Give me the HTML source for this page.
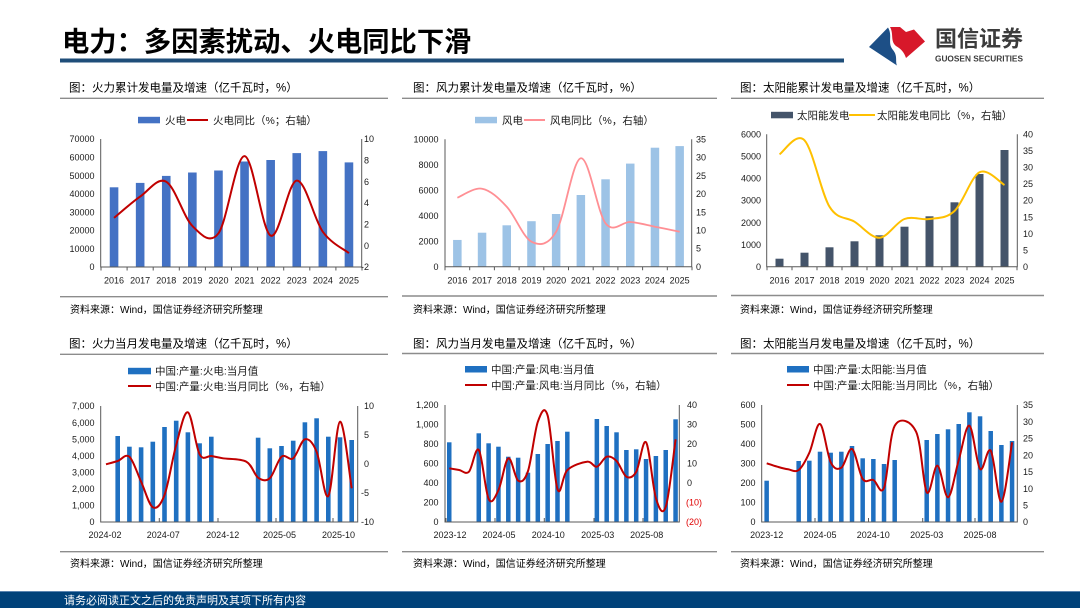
<!DOCTYPE html>
<html><head><meta charset="utf-8"><style>
html,body{margin:0;padding:0;background:#fff;}
svg{display:block;font-family:"Liberation Sans","Noto Sans CJK SC",sans-serif;}
.t{font-size:11.5px;fill:#000;}
.src{font-size:10px;fill:#000;}
.ax{font-size:9px;fill:#1a1a1a;}
.lg{font-size:10.5px;fill:#1a1a1a;}
.axl{stroke:#595959;stroke-width:1;fill:none;}
.sep{stroke:#8c8c8c;stroke-width:1.4;}
</style></head><body>
<svg width="1080" height="608" viewBox="0 0 1080 608" xmlns="http://www.w3.org/2000/svg">
<rect width="1080" height="608" fill="#fff"/>
<!-- Header -->
<text x="62" y="51" font-size="27.3" font-weight="bold" fill="#000" font-family="'Noto Sans CJK SC',sans-serif">电力：多因素扰动、火电同比下滑</text>
<rect x="60" y="58.5" width="784" height="4" fill="#1f4e79"/>
<!-- Logo -->
<path d="M869,47 L888,27.5 C893,36 887,43 893,50 C898,56 895,61 897,65.5 Z" fill="#1d4f86"/>
<path d="M890,27 L900,27 L906,32 L914,29.5 L925,41.5 L906,58 C904,52 901,49 896,46 C890,41 894,34 890,27 Z" fill="#d7182a"/>
<text x="935" y="46.5" font-size="22" font-weight="bold" fill="#3c3c3c" font-family="'Noto Sans CJK SC',sans-serif">国信证券</text>
<text x="935" y="61.5" font-size="8" font-weight="bold" fill="#3c3c3c" textLength="88" lengthAdjust="spacingAndGlyphs">GUOSEN SECURITIES</text>

<!-- ================= Chart 1 ================= -->
<text class="t" x="69" y="91.7">图：火力累计发电量及增速（亿千瓦时，%）</text>
<line class="sep" x1="60" y1="98.3" x2="388" y2="98.3"/>
<rect x="138" y="116.8" width="22" height="6.5" fill="#4472c4"/>
<text class="lg" x="165" y="124">火电</text>
<line x1="187" y1="120" x2="208" y2="120" stroke="#c00000" stroke-width="2"/>
<text class="lg" x="213" y="124">火电同比（%；右轴）</text>
<g fill="#4472c4">
<rect x="109.75" y="187.3" width="8.6" height="79.7"/>
<rect x="135.85" y="182.9" width="8.6" height="84.1"/>
<rect x="161.95" y="175.9" width="8.6" height="91.1"/>
<rect x="188.05" y="172.5" width="8.6" height="94.5"/>
<rect x="214.15" y="170.5" width="8.6" height="96.5"/>
<rect x="240.25" y="161.5" width="8.6" height="105.5"/>
<rect x="266.35" y="160" width="8.6" height="107"/>
<rect x="292.45" y="153.1" width="8.6" height="113.9"/>
<rect x="318.55" y="151.1" width="8.6" height="115.9"/>
<rect x="344.65" y="162.4" width="8.6" height="104.6"/>
</g>
<path class="axl" d="M100.7,139 V267 H361.7 V139"/>
<path class="axl" d="M101,267v3.5M127.1,267v3.5M153.2,267v3.5M179.3,267v3.5M205.4,267v3.5M231.5,267v3.5M257.6,267v3.5M283.7,267v3.5M309.8,267v3.5M335.9,267v3.5M362,267v3.5"/>
<path d="M114.05,217.9 C118.4,214.35 131.45,202.63 140.15,196.6 C148.85,190.57 157.55,176.82 166.25,181.7 C174.95,186.58 183.65,217.3 192.35,225.9 C201.05,234.5 209.75,244.93 218.45,233.3 C227.15,221.67 235.85,155.72 244.55,156.1 C253.25,156.48 261.95,231.52 270.65,235.6 C279.35,239.68 288.05,181.23 296.75,180.6 C305.45,179.97 314.15,219.72 322.85,231.8 C331.55,243.88 344.6,249.55 348.95,253.1" fill="none" stroke="#c00000" stroke-width="2"/>
<g class="ax" text-anchor="end">
<text x="94.5" y="142.2">70000</text><text x="94.5" y="160.5">60000</text><text x="94.5" y="178.8">50000</text><text x="94.5" y="197.1">40000</text><text x="94.5" y="215.3">30000</text><text x="94.5" y="233.6">20000</text><text x="94.5" y="251.9">10000</text><text x="94.5" y="270.2">0</text>
</g>
<g class="ax">
<text x="364" y="142.2">10</text><text x="364" y="163.5">8</text><text x="364" y="184.9">6</text><text x="364" y="206.2">4</text><text x="364" y="227.5">2</text><text x="364" y="248.9">0</text><text x="361" y="270.2">-2</text>
</g>
<g class="ax" text-anchor="middle">
<text x="114.05" y="283.5">2016</text><text x="140.15" y="283.5">2017</text><text x="166.25" y="283.5">2018</text><text x="192.35" y="283.5">2019</text><text x="218.45" y="283.5">2020</text><text x="244.55" y="283.5">2021</text><text x="270.65" y="283.5">2022</text><text x="296.75" y="283.5">2023</text><text x="322.85" y="283.5">2024</text><text x="348.95" y="283.5">2025</text>
</g>
<line class="sep" x1="60" y1="296.7" x2="388" y2="296.7"/>
<text class="src" x="70" y="312.8">资料来源：Wind，国信证券经济研究所整理</text>

<!-- ================= Chart 2 ================= -->
<text class="t" x="413" y="91.7">图：风力累计发电量及增速（亿千瓦时，%）</text>
<line class="sep" x1="402" y1="98.3" x2="717" y2="98.3"/>
<rect x="475" y="116.8" width="22" height="6.5" fill="#9dc3e6"/>
<text class="lg" x="502" y="124">风电</text>
<line x1="524" y1="120" x2="545" y2="120" stroke="#ff8f94" stroke-width="2"/>
<text class="lg" x="550" y="124">风电同比（%，右轴）</text>
<g fill="#9dc3e6">
<rect x="453.1" y="239.95" width="8.5" height="26.75"/>
<rect x="477.8" y="232.7" width="8.5" height="34"/>
<rect x="502.5" y="225.3" width="8.5" height="41.4"/>
<rect x="527.2" y="221.2" width="8.5" height="45.5"/>
<rect x="551.9" y="214" width="8.5" height="52.7"/>
<rect x="576.6" y="195" width="8.5" height="71.7"/>
<rect x="601.3" y="179.3" width="8.5" height="87.4"/>
<rect x="626" y="163.6" width="8.5" height="103.1"/>
<rect x="650.7" y="147.7" width="8.5" height="119"/>
<rect x="675.4" y="146.1" width="8.5" height="120.6"/>
</g>
<path class="axl" d="M445,139.3 V266.7 H691.7 V139.3"/>
<path class="axl" d="M445,266.7v3.5M469.7,266.7v3.5M494.4,266.7v3.5M519.1,266.7v3.5M543.8,266.7v3.5M568.5,266.7v3.5M593.2,266.7v3.5M617.9,266.7v3.5M642.6,266.7v3.5M667.3,266.7v3.5M692,266.7v3.5"/>
<path d="M457.35,197.7 C461.47,196.2 473.82,187.2 482.05,188.7 C490.28,190.2 498.52,197.87 506.75,206.7 C514.98,215.53 523.22,237.53 531.45,241.7 C539.68,245.87 547.92,245.6 556.15,231.7 C564.38,217.8 572.62,159.7 580.85,158.3 C589.08,156.9 597.32,212.68 605.55,223.3 C613.78,233.92 622.02,221.43 630.25,222 C638.48,222.57 646.72,225.08 654.95,226.7 C663.18,228.32 675.53,230.87 679.65,231.7" fill="none" stroke="#ff8f94" stroke-width="1.8"/>
<g class="ax" text-anchor="end">
<text x="438.5" y="142.5">10000</text><text x="438.5" y="168">8000</text><text x="438.5" y="193.5">6000</text><text x="438.5" y="218.9">4000</text><text x="438.5" y="244.4">2000</text><text x="438.5" y="269.9">0</text>
</g>
<g class="ax">
<text x="696" y="142.5">35</text><text x="696" y="160.7">30</text><text x="696" y="178.9">25</text><text x="696" y="197.1">20</text><text x="696" y="215.3">15</text><text x="696" y="233.5">10</text><text x="696" y="251.7">5</text><text x="696" y="269.9">0</text>
</g>
<g class="ax" text-anchor="middle">
<text x="457.35" y="283.5">2016</text><text x="482.05" y="283.5">2017</text><text x="506.75" y="283.5">2018</text><text x="531.45" y="283.5">2019</text><text x="556.15" y="283.5">2020</text><text x="580.85" y="283.5">2021</text><text x="605.55" y="283.5">2022</text><text x="630.25" y="283.5">2023</text><text x="654.95" y="283.5">2024</text><text x="679.65" y="283.5">2025</text>
</g>
<line class="sep" x1="402" y1="296" x2="717" y2="296"/>
<text class="src" x="413" y="312.8">资料来源：Wind，国信证券经济研究所整理</text>

<!-- ================= Chart 3 ================= -->
<text class="t" x="740" y="91.7">图：太阳能累计发电量及增速（亿千瓦时，%）</text>
<line class="sep" x1="731" y1="98.3" x2="1044" y2="98.3"/>
<rect x="771" y="111.8" width="22" height="6.5" fill="#44546a"/>
<text class="lg" x="797" y="119">太阳能发电</text>
<line x1="849" y1="115" x2="875" y2="115" stroke="#ffc000" stroke-width="2"/>
<text class="lg" x="877" y="119">太阳能发电同比（%，右轴）</text>
<g fill="#44546a">
<rect x="775.5" y="258.7" width="8" height="8"/>
<rect x="800.5" y="252.7" width="8" height="14"/>
<rect x="825.5" y="247.3" width="8" height="19.4"/>
<rect x="850.5" y="241.3" width="8" height="25.4"/>
<rect x="875.5" y="235.3" width="8" height="31.4"/>
<rect x="900.5" y="226.7" width="8" height="40"/>
<rect x="925.5" y="216.3" width="8" height="50.4"/>
<rect x="950.5" y="202.3" width="8" height="64.4"/>
<rect x="975.5" y="174" width="8" height="92.7"/>
<rect x="1000.5" y="150" width="8" height="116.7"/>
</g>
<path class="axl" d="M766.7,134.3 V266.7 H1017.3 V134.3"/>
<path class="axl" d="M767,266.7v3.5M792,266.7v3.5M817,266.7v3.5M842,266.7v3.5M867,266.7v3.5M892,266.7v3.5M917,266.7v3.5M942,266.7v3.5M967,266.7v3.5M992,266.7v3.5M1017,266.7v3.5"/>
<path d="M779.5,154.3 C783.67,151.97 796.17,131.57 804.5,140.3 C812.83,149.03 821.17,193.13 829.5,206.7 C837.83,220.27 846.17,216.53 854.5,221.7 C862.83,226.87 871.17,238.15 879.5,237.7 C887.83,237.25 896.17,222.12 904.5,219 C912.83,215.88 921.17,220.33 929.5,219 C937.83,217.67 946.17,218.78 954.5,211 C962.83,203.22 971.17,176.63 979.5,172.3 C987.83,167.97 1000.33,182.88 1004.5,185" fill="none" stroke="#ffc000" stroke-width="2"/>
<g class="ax" text-anchor="end">
<text x="761" y="137.5">6000</text><text x="761" y="159.6">5000</text><text x="761" y="181.6">4000</text><text x="761" y="203.7">3000</text><text x="761" y="225.8">2000</text><text x="761" y="247.8">1000</text><text x="761" y="269.9">0</text>
</g>
<g class="ax">
<text x="1023" y="137.5">40</text><text x="1023" y="154.1">35</text><text x="1023" y="170.6">30</text><text x="1023" y="187.2">25</text><text x="1023" y="203.7">20</text><text x="1023" y="220.3">15</text><text x="1023" y="236.8">10</text><text x="1023" y="253.4">5</text><text x="1023" y="269.9">0</text>
</g>
<g class="ax" text-anchor="middle">
<text x="779.5" y="283.5">2016</text><text x="804.5" y="283.5">2017</text><text x="829.5" y="283.5">2018</text><text x="854.5" y="283.5">2019</text><text x="879.5" y="283.5">2020</text><text x="904.5" y="283.5">2021</text><text x="929.5" y="283.5">2022</text><text x="954.5" y="283.5">2023</text><text x="979.5" y="283.5">2024</text><text x="1004.5" y="283.5">2025</text>
</g>
<line class="sep" x1="731" y1="295.5" x2="1044" y2="295.5"/>
<text class="src" x="740" y="312.8">资料来源：Wind，国信证券经济研究所整理</text>

<!-- ================= Chart 4 ================= -->
<text class="t" x="69" y="347.7">图：火力当月发电量及增速（亿千瓦时，%）</text>
<line class="sep" x1="60" y1="354.3" x2="388" y2="354.3"/>
<rect x="128" y="367.8" width="23" height="6.5" fill="#1f70c1"/>
<text class="lg" x="155" y="374.7">中国:产量:火电:当月值</text>
<line x1="128" y1="386" x2="151" y2="386" stroke="#c00000" stroke-width="2"/>
<text class="lg" x="155" y="390">中国:产量:火电:当月同比（%，右轴）</text>
<g fill="#1f70c1">
<rect x="115.4" y="436" width="4.6" height="86"/>
<rect x="127.1" y="446.7" width="4.6" height="75.3"/>
<rect x="138.8" y="447.3" width="4.6" height="74.7"/>
<rect x="150.5" y="441.7" width="4.6" height="80.3"/>
<rect x="162.2" y="427" width="4.6" height="95"/>
<rect x="173.9" y="420.7" width="4.6" height="101.3"/>
<rect x="185.6" y="432.3" width="4.6" height="89.7"/>
<rect x="197.3" y="443.3" width="4.6" height="78.7"/>
<rect x="209" y="436.7" width="4.6" height="85.3"/>
<rect x="255.8" y="437.7" width="4.6" height="84.3"/>
<rect x="267.5" y="448.3" width="4.6" height="73.7"/>
<rect x="279.2" y="446" width="4.6" height="76"/>
<rect x="290.9" y="440.7" width="4.6" height="81.3"/>
<rect x="302.6" y="422.3" width="4.6" height="99.7"/>
<rect x="314.3" y="418.3" width="4.6" height="103.7"/>
<rect x="326" y="436.7" width="4.6" height="85.3"/>
<rect x="337.7" y="437.3" width="4.6" height="84.7"/>
<rect x="349.4" y="440" width="4.6" height="82"/>
</g>
<path class="axl" d="M100.7,406 V522 H357.7 V406"/>
<path class="axl" d="M159.3,522v-4M218,522v-4M276,522v-4M333,522v-4"/>
<path d="M106,464.3 C107.95,463.75 113.8,462.27 117.7,461 C121.6,459.73 125.5,453.25 129.4,456.7 C133.3,460.15 137.2,473.27 141.1,481.7 C145,490.13 148.9,505.08 152.8,507.3 C156.7,509.52 160.6,505.38 164.5,495 C168.4,484.62 172.3,458.78 176.2,445 C180.1,431.22 184,410.75 187.9,412.3 C191.8,413.85 195.7,447.02 199.6,454.3 C203.5,461.58 207.4,455.33 211.3,456 C215.2,456.67 217.15,457.35 223,458.3 C228.85,459.25 240.55,458.47 246.4,461.7 C252.25,464.93 254.2,474.93 258.1,477.7 C262,480.47 265.9,481.8 269.8,478.3 C273.7,474.8 277.6,460.03 281.5,456.7 C285.4,453.37 289.3,461.2 293.2,458.3 C297.1,455.4 301,440.4 304.9,439.3 C308.8,438.2 312.7,442.25 316.6,451.7 C320.5,461.15 324.4,501 328.3,496 C332.2,491 336.1,422.98 340,421.7 C343.9,420.42 349.75,477.2 351.7,488.3" fill="none" stroke="#c00000" stroke-width="2"/>
<g class="ax" text-anchor="end">
<text x="94.5" y="409.2">7,000</text><text x="94.5" y="425.8">6,000</text><text x="94.5" y="442.3">5,000</text><text x="94.5" y="458.9">4,000</text><text x="94.5" y="475.5">3,000</text><text x="94.5" y="492.1">2,000</text><text x="94.5" y="508.6">1,000</text><text x="94.5" y="525.2">0</text>
</g>
<g class="ax">
<text x="364" y="409.2">10</text><text x="364" y="438.2">5</text><text x="364" y="467.2">0</text><text x="361" y="496.2">-5</text><text x="361" y="525.2">-10</text>
</g>
<g class="ax" text-anchor="middle">
<text x="105" y="538">2024-02</text><text x="163.3" y="538">2024-07</text><text x="222.7" y="538">2024-12</text><text x="279.5" y="538">2025-05</text><text x="338.5" y="538">2025-10</text>
</g>
<line class="sep" x1="60" y1="551.7" x2="388" y2="551.7"/>
<text class="src" x="70" y="567">资料来源：Wind，国信证券经济研究所整理</text>

<!-- ================= Chart 5 ================= -->
<text class="t" x="413" y="347.7">图：风力当月发电量及增速（亿千瓦时，%）</text>
<line class="sep" x1="402" y1="353.5" x2="717" y2="353.5"/>
<rect x="465" y="366" width="22" height="6.5" fill="#1f70c1"/>
<text class="lg" x="491" y="373">中国:产量:风电:当月值</text>
<line x1="465" y1="385" x2="487" y2="385" stroke="#c00000" stroke-width="2"/>
<text class="lg" x="491" y="389">中国:产量:风电:当月同比（%，右轴）</text>
<g fill="#1f70c1">
<rect x="447" y="442.3" width="4.5" height="79.7"/>
<rect x="476.52" y="433.3" width="4.5" height="88.7"/>
<rect x="486.36" y="443.3" width="4.5" height="78.7"/>
<rect x="496.2" y="446.7" width="4.5" height="75.3"/>
<rect x="506.04" y="456.7" width="4.5" height="65.3"/>
<rect x="515.88" y="457.7" width="4.5" height="64.3"/>
<rect x="525.72" y="472.7" width="4.5" height="49.3"/>
<rect x="535.56" y="454" width="4.5" height="68"/>
<rect x="545.4" y="444" width="4.5" height="78"/>
<rect x="555.24" y="441" width="4.5" height="81"/>
<rect x="565.08" y="431.7" width="4.5" height="90.3"/>
<rect x="594.6" y="419" width="4.5" height="103"/>
<rect x="604.44" y="426" width="4.5" height="96"/>
<rect x="614.28" y="432.3" width="4.5" height="89.7"/>
<rect x="624.12" y="450" width="4.5" height="72"/>
<rect x="633.96" y="449.3" width="4.5" height="72.7"/>
<rect x="643.8" y="459" width="4.5" height="63"/>
<rect x="653.64" y="456" width="4.5" height="66"/>
<rect x="663.48" y="450" width="4.5" height="72"/>
<rect x="673.32" y="419.3" width="4.5" height="102.7"/>
</g>
<path class="axl" d="M445,405 V522 H679.3 V405"/>
<path class="axl" d="M446,522v-4M495,522v-4M544.3,522v-4M594,522v-4M643,522v-4"/>
<path d="M449.3,468.3 C450.94,468.58 455.86,469.43 459.14,470 C462.42,470.57 465.7,475.03 468.98,471.7 C472.26,468.37 475.54,445.45 478.82,450 C482.1,454.55 485.38,492.33 488.66,499 C491.94,505.67 495.22,496.78 498.5,490 C501.78,483.22 505.06,459.85 508.34,458.3 C511.62,456.75 514.9,478.58 518.18,480.7 C521.46,482.82 524.74,480.83 528.02,471 C531.3,461.17 534.58,430.92 537.86,421.7 C541.14,412.48 544.42,404.43 547.7,415.7 C550.98,426.97 554.26,480.25 557.54,489.3 C560.82,498.35 562.46,474.6 567.38,470 C572.3,465.4 582.14,462.25 587.06,461.7 C591.98,461.15 593.62,467.53 596.9,466.7 C600.18,465.87 603.46,457.65 606.74,456.7 C610.02,455.75 613.3,457.67 616.58,461 C619.86,464.33 623.14,474.92 626.42,476.7 C629.7,478.48 632.98,477.43 636.26,471.7 C639.54,465.97 642.82,437.87 646.1,442.3 C649.38,446.73 652.66,487.57 655.94,498.3 C659.22,509.03 662.5,516.53 665.78,506.7 C669.06,496.87 673.98,450.53 675.62,439.3" fill="none" stroke="#c00000" stroke-width="2"/>
<g class="ax" text-anchor="end">
<text x="438.5" y="408.2">1,200</text><text x="438.5" y="427.7">1,000</text><text x="438.5" y="447.2">800</text><text x="438.5" y="466.7">600</text><text x="438.5" y="486.2">400</text><text x="438.5" y="505.7">200</text><text x="438.5" y="525.2">0</text>
</g>
<g class="ax">
<text x="687" y="408.2">40</text><text x="687" y="427.7">30</text><text x="687" y="447.2">20</text><text x="687" y="466.7">10</text><text x="687" y="486.2">0</text>
<text x="686" y="505.7" fill="#e00000">(10)</text><text x="686" y="525.2" fill="#e00000">(20)</text>
</g>
<g class="ax" text-anchor="middle">
<text x="450" y="538">2023-12</text><text x="499" y="538">2024-05</text><text x="548.3" y="538">2024-10</text><text x="597.7" y="538">2025-03</text><text x="646.7" y="538">2025-08</text>
</g>
<line class="sep" x1="402" y1="551.7" x2="717" y2="551.7"/>
<text class="src" x="413" y="567">资料来源：Wind，国信证券经济研究所整理</text>

<!-- ================= Chart 6 ================= -->
<text class="t" x="740" y="347.7">图：太阳能当月发电量及增速（亿千瓦时，%）</text>
<line class="sep" x1="731" y1="353.5" x2="1044" y2="353.5"/>
<rect x="787" y="366" width="22" height="6.5" fill="#1f70c1"/>
<text class="lg" x="813" y="373">中国:产量:太阳能:当月值</text>
<line x1="787" y1="385" x2="809" y2="385" stroke="#c00000" stroke-width="2"/>
<text class="lg" x="813" y="389">中国:产量:太阳能:当月同比（%，右轴）</text>
<g fill="#1f70c1">
<rect x="764.4" y="480.7" width="4.5" height="41.3"/>
<rect x="796.41" y="461" width="4.5" height="61"/>
<rect x="807.08" y="460.7" width="4.5" height="61.3"/>
<rect x="817.75" y="451.7" width="4.5" height="70.3"/>
<rect x="828.42" y="452.7" width="4.5" height="69.3"/>
<rect x="839.09" y="451.7" width="4.5" height="70.3"/>
<rect x="849.76" y="446" width="4.5" height="76"/>
<rect x="860.43" y="458.3" width="4.5" height="63.7"/>
<rect x="871.1" y="459" width="4.5" height="63"/>
<rect x="881.77" y="464" width="4.5" height="58"/>
<rect x="892.44" y="460" width="4.5" height="62"/>
<rect x="924.45" y="440" width="4.5" height="82"/>
<rect x="935.12" y="434" width="4.5" height="88"/>
<rect x="945.79" y="429.3" width="4.5" height="92.7"/>
<rect x="956.46" y="424" width="4.5" height="98"/>
<rect x="967.13" y="412.3" width="4.5" height="109.7"/>
<rect x="977.8" y="416.3" width="4.5" height="105.7"/>
<rect x="988.47" y="431" width="4.5" height="91"/>
<rect x="999.14" y="445" width="4.5" height="77"/>
<rect x="1009.81" y="441" width="4.5" height="81"/>
</g>
<path class="axl" d="M761.7,405 V522 H1017.3 V405"/>
<path class="axl" d="M815,522v-4M868.5,522v-4M922.7,522v-4M975,522v-4"/>
<path d="M766.7,463.3 C768.48,463.87 773.81,465.7 777.37,466.7 C780.93,467.7 784.48,468.75 788.04,469.3 C791.6,469.85 795.15,472.77 798.71,470 C802.27,467.23 805.82,460.37 809.38,452.7 C812.94,445.03 816.49,422.4 820.05,424 C823.61,425.6 827.16,455.02 830.72,462.3 C834.28,469.58 837.83,469.92 841.39,467.7 C844.95,465.48 848.5,447.12 852.06,449 C855.62,450.88 859.17,473.83 862.73,479 C866.29,484.17 869.84,478.55 873.4,480 C876.96,481.45 880.51,496.75 884.07,487.7 C887.63,478.65 889.41,435.03 894.74,425.7 C900.08,416.37 910.75,420.6 916.08,431.7 C921.42,442.8 923.19,486.63 926.75,492.3 C930.31,497.97 933.86,464.87 937.42,465.7 C940.98,466.53 944.53,498.25 948.09,497.3 C951.65,496.35 955.2,471.93 958.76,460 C962.32,448.07 965.87,424.2 969.43,425.7 C972.99,427.2 976.54,464.83 980.1,469 C983.66,473.17 987.21,445.25 990.77,450.7 C994.33,456.15 997.88,503.1 1001.44,501.7 C1005,500.3 1010.33,452.2 1012.11,442.3" fill="none" stroke="#c00000" stroke-width="2"/>
<g class="ax" text-anchor="end">
<text x="755.5" y="408.2">600</text><text x="755.5" y="427.7">500</text><text x="755.5" y="447.2">400</text><text x="755.5" y="466.7">300</text><text x="755.5" y="486.2">200</text><text x="755.5" y="505.7">100</text><text x="755.5" y="525.2">0</text>
</g>
<g class="ax">
<text x="1023" y="408.2">35</text><text x="1023" y="424.9">30</text><text x="1023" y="441.6">25</text><text x="1023" y="458.3">20</text><text x="1023" y="475.1">15</text><text x="1023" y="491.8">10</text><text x="1023" y="508.5">5</text><text x="1023" y="525.2">0</text>
</g>
<g class="ax" text-anchor="middle">
<text x="766.7" y="538">2023-12</text><text x="820" y="538">2024-05</text><text x="873.3" y="538">2024-10</text><text x="926.7" y="538">2025-03</text><text x="980" y="538">2025-08</text>
</g>
<line class="sep" x1="731" y1="551.7" x2="1044" y2="551.7"/>
<text class="src" x="740" y="567">资料来源：Wind，国信证券经济研究所整理</text>

<!-- Footer -->
<rect x="0" y="591" width="1080" height="17" fill="#00427a"/>
<rect x="0" y="591" width="1080" height="1" fill="#5a84b0"/>
<text x="64" y="604" font-size="11" fill="#fff">请务必阅读正文之后的免责声明及其项下所有内容</text>
</svg>
</body></html>
